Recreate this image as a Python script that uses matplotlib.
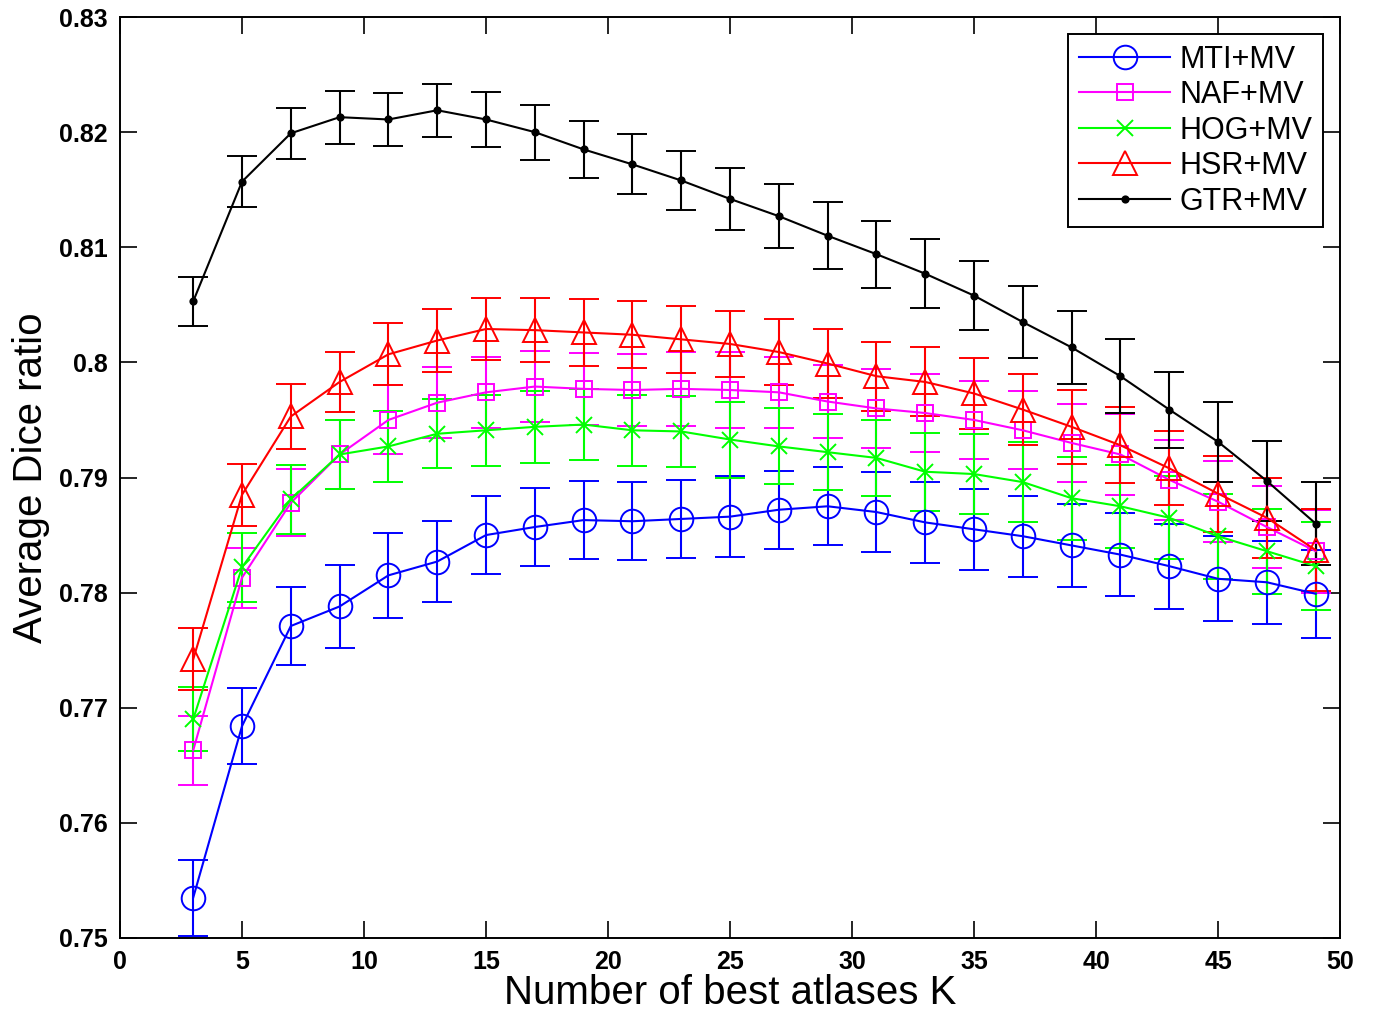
import numpy as np
import matplotlib
matplotlib.use("Agg")
import matplotlib.pyplot as plt
from matplotlib.lines import Line2D

K = [3, 5, 7, 9, 11, 13, 15, 17, 19, 21, 23, 25, 27, 29, 31, 33, 35, 37, 39, 41, 43, 45, 47, 49]

mti = [0.7535, 0.7684, 0.7771, 0.7788, 0.7815, 0.7827, 0.7850, 0.7857, 0.7863, 0.7862, 0.7864, 0.7866,
       0.7872, 0.7875, 0.7870, 0.7861, 0.7855, 0.7849, 0.7841, 0.7833, 0.7823, 0.7812, 0.7809, 0.7799]
mti_err = [0.0033, 0.0033, 0.0034, 0.0036, 0.0037, 0.0035, 0.0034, 0.0034, 0.0034, 0.0034, 0.0034, 0.0035,
           0.0034, 0.0034, 0.0035, 0.0035, 0.0035, 0.0035, 0.0036, 0.0036, 0.0037, 0.0037, 0.0036, 0.0038]

naf = [0.7663, 0.7813, 0.7878, 0.7920, 0.7950, 0.7965, 0.7974, 0.7979, 0.7977, 0.7976, 0.7977, 0.7976,
       0.7974, 0.7966, 0.7960, 0.7956, 0.7950, 0.7941, 0.7930, 0.7920, 0.7898, 0.7879, 0.7857, 0.7836]
naf_err = [0.0030, 0.0026, 0.0029, 0.0030, 0.0030, 0.0031, 0.0031, 0.0031, 0.0031, 0.0031, 0.0032, 0.0033,
           0.0031, 0.0032, 0.0034, 0.0034, 0.0034, 0.0034, 0.0034, 0.0035, 0.0035, 0.0035, 0.0036, 0.0036]

hog = [0.7690, 0.7822, 0.7881, 0.7920, 0.7927, 0.7938, 0.7941, 0.7944, 0.7946, 0.7941, 0.7940, 0.7933,
       0.7927, 0.7922, 0.7917, 0.7905, 0.7903, 0.7896, 0.7882, 0.7875, 0.7865, 0.7849, 0.7836, 0.7823]
hog_err = [0.0028, 0.0030, 0.0030, 0.0030, 0.0031, 0.0030, 0.0031, 0.0031, 0.0031, 0.0031, 0.0031, 0.0033,
           0.0033, 0.0033, 0.0033, 0.0034, 0.0035, 0.0035, 0.0036, 0.0036, 0.0036, 0.0037, 0.0037, 0.0038]

hsr = [0.7742, 0.7885, 0.7953, 0.7983, 0.8007, 0.8019, 0.8029, 0.8028, 0.8026, 0.8024, 0.8020, 0.8016,
       0.8009, 0.7999, 0.7988, 0.7983, 0.7973, 0.7959, 0.7944, 0.7928, 0.7908, 0.7886, 0.7865, 0.7837]
hsr_err = [0.0027, 0.0027, 0.0028, 0.0026, 0.0027, 0.0027, 0.0027, 0.0028, 0.0029, 0.0029, 0.0029, 0.0029,
           0.0029, 0.0030, 0.0030, 0.0030, 0.0031, 0.0031, 0.0032, 0.0033, 0.0032, 0.0033, 0.0035, 0.0036]

gtr = [0.8053, 0.8157, 0.8199, 0.8213, 0.8211, 0.8219, 0.8211, 0.8200, 0.8185, 0.8172, 0.8158, 0.8142,
       0.8127, 0.8110, 0.8094, 0.8077, 0.8058, 0.8035, 0.8013, 0.7988, 0.7959, 0.7931, 0.7897, 0.7860]
gtr_err = [0.0021, 0.0022, 0.0022, 0.0023, 0.0023, 0.0023, 0.0024, 0.0024, 0.0025, 0.0026, 0.0026, 0.0027,
           0.0028, 0.0029, 0.0029, 0.0030, 0.0030, 0.0031, 0.0032, 0.0032, 0.0033, 0.0035, 0.0035, 0.0036]

labels = ["MTI+MV", "NAF+MV", "HOG+MV", "HSR+MV", "GTR+MV"]
xticks = [0, 5, 10, 15, 20, 25, 30, 35, 40, 45, 50]
yticks = [0.75, 0.76, 0.77, 0.78, 0.79, 0.80, 0.81, 0.82, 0.83]
ytick_labels = ["0.75", "0.76", "0.77", "0.78", "0.79", "0.8", "0.81", "0.82", "0.83"]

fig = plt.figure(figsize=(13.73, 10.19), dpi=100)
ax = fig.add_axes([0.0874, 0.0795, 0.8886, 0.9038])

series = [
    (mti, mti_err, "#0000ff", "o", 17),
    (naf, naf_err, "#ff00ff", "s", 12),
    (hog, hog_err, "#00ff00", "x", 11),
    (hsr, hsr_err, "#ff0000", "^", 17),
    (gtr, gtr_err, "#000000", ".", 9),
]
handles = []
for (y, e, c, m, ms), lab in zip(series, labels):
    mfc = c if m == "." else "none"
    ax.errorbar(K, y, yerr=e, color=c, marker=m, markersize=ms, mfc=mfc, mec=c,
                mew=1.4, lw=1.5, elinewidth=1.5, capsize=11, capthick=1.5)
    handles.append(Line2D([], [], color=c, marker=m, markersize=ms, mfc=mfc, mec=c,
                          mew=1.4, lw=1.5, label=lab))

ax.set_xlim(0, 50)
ax.set_ylim(0.75, 0.83)
ax.set_xticks(xticks)
ax.set_yticks(yticks)
ax.set_yticklabels(ytick_labels)
ax.tick_params(direction="in", length=12, width=1.2, top=True, right=True, pad=9)
for lab in ax.get_xticklabels() + ax.get_yticklabels():
    lab.set_fontfamily(["Liberation Sans", "DejaVu Sans"])
    lab.set_fontweight("bold")
    lab.set_fontsize(18)
for s in ax.spines.values():
    s.set_linewidth(1.4)

ax.set_xlabel("Number of best atlases K", fontsize=29,
              family=["Liberation Sans", "DejaVu Sans"], labelpad=0)
ax.set_ylabel("Average Dice ratio", fontsize=29,
              family=["Liberation Sans", "DejaVu Sans"], labelpad=6)

leg = ax.legend(handles=handles, loc="upper right", prop={"family": "Liberation Sans", "size": 22},
                fancybox=False, edgecolor="black", framealpha=1, handlelength=3.0,
                borderaxespad=0.55, labelspacing=0.18, handletextpad=0.3, borderpad=0.35)
leg.get_frame().set_linewidth(1.4)

fig.savefig("out.png", dpi=100)
